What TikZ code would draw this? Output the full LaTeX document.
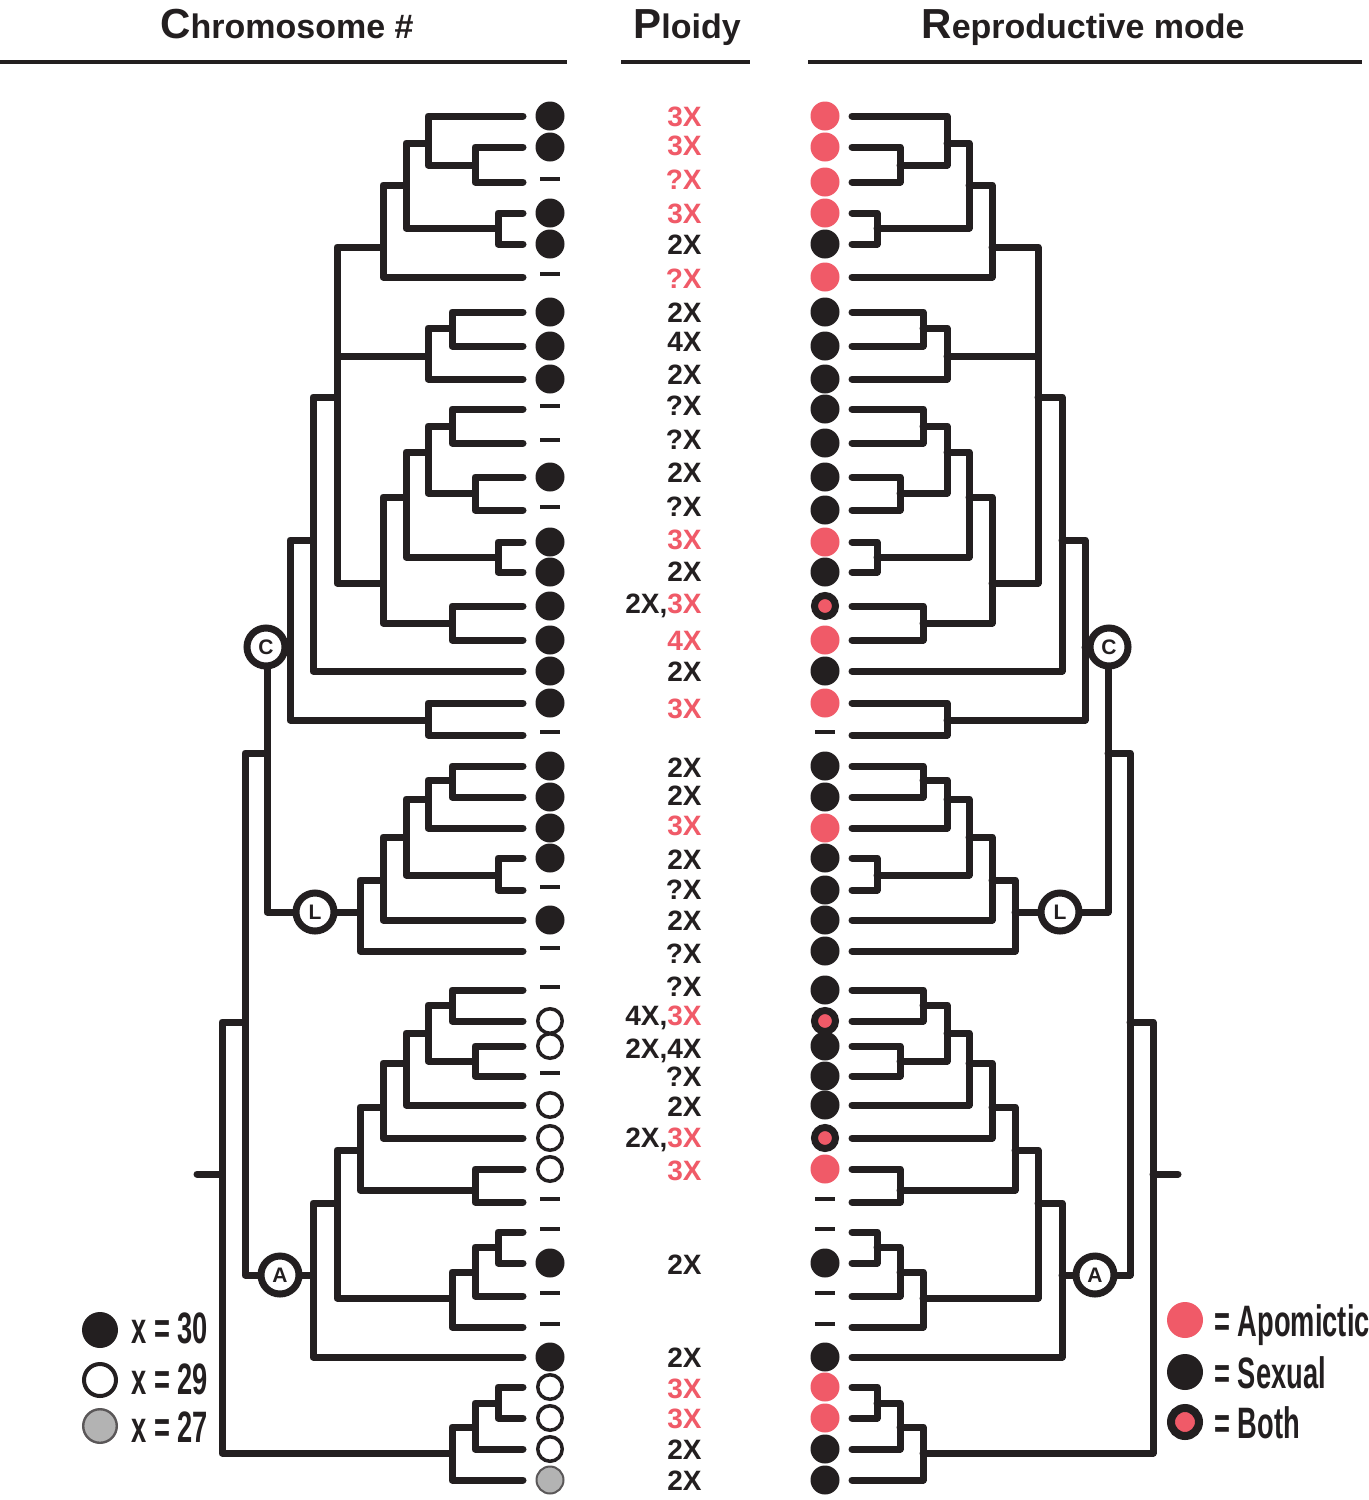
\documentclass[tikz,border=0pt]{standalone}
\usepackage{fontspec}
\setmainfont{Liberation Sans}
\newfontfamily\condfont[FakeStretch=0.62]{Liberation Sans}
\definecolor{ink}{HTML}{231F20}
\definecolor{apo}{HTML}{F05A68}
\definecolor{gryc}{HTML}{B3B3B3}
\newcommand\redx[1]{\textcolor{apo}{#1}}
\newcommand\bigini[1]{{\fontsize{21}{21}\selectfont #1}}
\tikzset{
 tree/.style={draw=ink,line width=3.5pt,line cap=round,line join=round},
 rulestyle/.style={draw=ink,line width=2pt},
 clade/.style={circle,draw=ink,fill=white,line width=3.5pt,minimum size=19pt,inner sep=0pt,font=\bfseries\fontsize{10.5}{10.5}\selectfont,text=ink},
 mkF/.style={circle,fill=ink,minimum size=14.5pt,inner sep=0pt},
 mkO/.style={circle,draw=ink,fill=white,line width=1.75pt,minimum size=12.25pt,inner sep=0pt},
 mkG/.style={circle,draw=ink!75,fill=gryc,line width=1pt,minimum size=13.5pt,inner sep=0pt},
 mkD/.style={rectangle,fill=ink,minimum width=10pt,minimum height=2pt,inner sep=0pt,yshift=1.5pt},
 rpR/.style={circle,fill=apo,minimum size=14.5pt,inner sep=0pt},
 rpB/.style={mkF},
 rpH/.style={circle,draw=ink,fill=apo,line width=3.5pt,minimum size=10.5pt,inner sep=0pt},
 rpD/.style={mkD},
 lgF/.style={circle,fill=ink,minimum size=18pt,inner sep=0pt},
 lgO/.style={circle,draw=ink,fill=white,line width=2pt,minimum size=16pt,inner sep=0pt},
 lgG/.style={circle,draw=ink!75,fill=gryc,line width=1.2pt,minimum size=16.8pt,inner sep=0pt},
 lgR/.style={circle,fill=apo,minimum size=18pt,inner sep=0pt},
 lgB/.style={lgF},
 lgH/.style={circle,draw=ink,fill=apo,line width=4pt,minimum size=14pt,inner sep=0pt},
 plo/.style={anchor=east,inner sep=0pt,text height=10pt,text depth=0pt,font=\bfseries\fontsize{14}{14}\selectfont,text=ink},
 hdr/.style={anchor=base,inner sep=0pt,font=\bfseries\fontsize{17}{17}\selectfont,text=ink},
 leg/.style={anchor=west,inner sep=0pt,text height=16pt,text depth=0pt,font=\condfont\bfseries\fontsize{22}{22}\selectfont,text=ink},
}
\newcommand\cladetree[1]{%
 \foreach \n/\px/\py in {R/222/1174, CLA/245/1022, CL/267/753, Ca/290/647,
   N313/313/540, N337/337/397, N383a/383/247, N406a/406/185, N428c/428/143,
   N475a/475/165, N498a/498/228, N428a/428/356, N452a/452/328, N383b/383/583,
   N406b/406/497, N428d/428/452, N452c/452/426, N475b/475/493, N498b/498/557,
   N452b/452/623, N428b/428/720,
   La/360/912, N383c/383/880, N406c/406/837, N428e/428/799, N452d/452/780, N498c/498/875,
   Aa/313/1275, N337b/337/1203, N360/360/1150, N383d/383/1107, N406d/406/1063,
   N428f/428/1033, N452f/452/1005, N475d/475/1061, N475c/475/1190, N452e/452/1298,
   N475e/475/1272, N498d/498/1247,
   Z/452/1453, N475f/475/1427, N498e/498/1403}{\coordinate (#1-\n) at (\px,\py);}
 \foreach \i/\py in {1/116,2/147,3/182,4/213,5/244,6/277,7/312,8/346,9/379,10/409,
   11/443,12/477,13/510,14/542,15/572,16/606,17/640,18/671,19/703,20/735,
   21/766,22/797,23/828,24/858,25/890,26/920,27/951,28/990,29/1021,30/1046,
   31/1076,32/1105,33/1138,34/1169,35/1202,36/1232,37/1263,38/1296,39/1327,40/1357,
   41/1387,42/1418,43/1449,44/1480}{\coordinate (#1-t\i) at (523,\py);}
 \coordinate (#1-stem) at (197,1174);
 \draw[tree] (#1-stem) -- (#1-R);
 \foreach \p/\c in {R/CLA, R/Z, CLA/CL, CLA/Aa, CL/Ca, CL/La,
   Ca/N313, Ca/N428b, N313/N337, N313/t18, N337/N383a, N337/N428a, N337/N383b,
   N383a/N406a, N383a/t6, N406a/N428c, N406a/N498a, N428c/t1, N428c/N475a,
   N475a/t2, N475a/t3, N498a/t4, N498a/t5, N428a/N452a, N428a/t9, N452a/t7, N452a/t8,
   N383b/N406b, N383b/N452b, N406b/N428d, N406b/N498b, N428d/N452c, N428d/N475b,
   N452c/t10, N452c/t11, N475b/t12, N475b/t13, N498b/t14, N498b/t15,
   N452b/t16, N452b/t17, N428b/t19, N428b/t20,
   La/N383c, La/t27, N383c/N406c, N383c/t26, N406c/N428e, N406c/N498c,
   N428e/N452d, N428e/t23, N452d/t21, N452d/t22, N498c/t24, N498c/t25,
   Aa/N337b, Aa/t40, N337b/N360, N337b/N452e, N360/N383d, N360/N475c,
   N383d/N406d, N383d/t33, N406d/N428f, N406d/t32, N428f/N452f, N428f/N475d,
   N452f/t28, N452f/t29, N475d/t30, N475d/t31, N475c/t34, N475c/t35,
   N452e/N475e, N452e/t39, N475e/N498d, N475e/t38, N498d/t36, N498d/t37,
   Z/N475f, Z/t44, N475f/N498e, N475f/t43, N498e/t41, N498e/t42}{\draw[tree] (#1-\p) |- (#1-\c);}
 \node[clade] (#1-C) at (266,647) {C};
 \node[clade] (#1-L) at (315,912) {L};
 \node[clade] (#1-A) at (280,1275) {A};
}
\begin{document}
\begin{tikzpicture}[x=0.5pt,y=-0.5pt]
\useasboundingbox[fill=white] (0,0) rectangle (1369,1500);
% headers
\node[hdr] (h1) at (287,38) {\bigini{C}hromosome \#};
\node[hdr] (h2) at (687,38) {\bigini{P}loidy};
\node[hdr] (h3) at (1083,38) {\bigini{R}eproductive mode};
\coordinate (ru1a) at (0,62); \coordinate (ru1b) at (567,62);
\coordinate (ru2a) at (621,62); \coordinate (ru2b) at (750,62);
\coordinate (ru3a) at (808,62); \coordinate (ru3b) at (1362,62);
\draw[rulestyle] (ru1a) -- (ru1b);
\draw[rulestyle] (ru2a) -- (ru2b);
\draw[rulestyle] (ru3a) -- (ru3b);
% trees
\begin{scope}
 \cladetree{l}
\end{scope}
\begin{scope}[shift={(1375,0)},xscale=-1]
 \cladetree{r}
\end{scope}
% chromosome markers
\foreach \i/\m in {1/F,2/F,3/D,4/F,5/F,6/D,7/F,8/F,9/F,10/D,11/D,12/F,13/D,14/F,15/F,
  16/F,17/F,18/F,19/F,20/D,21/F,22/F,23/F,24/F,25/D,26/F,27/D,28/D,29/O,30/O,31/D,
  32/O,33/O,34/O,35/D,36/D,37/F,38/D,39/D,40/F,41/O,42/O,43/O,44/G}
  {\node[mk\m,xshift=13.5pt] (chr\i) at (l-t\i) {};}
% reproductive markers
\foreach \i/\m in {1/R,2/R,3/R,4/R,5/B,6/R,7/B,8/B,9/B,10/B,11/B,12/B,13/B,14/R,15/B,
  16/H,17/R,18/B,19/R,20/D,21/B,22/B,23/R,24/B,25/B,26/B,27/B,28/B,29/H,30/B,31/B,
  32/B,33/H,34/R,35/D,36/D,37/B,38/D,39/D,40/B,41/R,42/R,43/B,44/B}
  {\node[rp\m,xshift=-13.5pt] (rep\i) at (r-t\i) {};}
% ploidy
\node[plo] (p1) at (702,116) {\redx{3X}};
\node[plo] (p2) at (702,145) {\redx{3X}};
\node[plo] (p3) at (702,179) {\redx{?X}};
\node[plo] (p4) at (702,213) {\redx{3X}};
\node[plo] (p5) at (702,244) {2X};
\node[plo] (p6) at (702,278) {\redx{?X}};
\node[plo] (p7) at (702,312) {2X};
\node[plo] (p8) at (702,341) {4X};
\node[plo] (p9) at (702,374) {2X};
\node[plo] (p10) at (702,405) {?X};
\node[plo] (p11) at (702,439) {?X};
\node[plo] (p12) at (702,472) {2X};
\node[plo] (p13) at (702,506) {?X};
\node[plo] (p14) at (702,539) {\redx{3X}};
\node[plo] (p15) at (702,571) {2X};
\node[plo] (p16) at (702,603) {2X,\redx{3X}};
\node[plo] (p17) at (702,640) {\redx{4X}};
\node[plo] (p18) at (702,671) {2X};
\node[plo] (p19) at (702,708) {\redx{3X}};
\node[plo] (p21) at (702,767) {2X};
\node[plo] (p22) at (702,795) {2X};
\node[plo] (p23) at (702,825) {\redx{3X}};
\node[plo] (p24) at (702,859) {2X};
\node[plo] (p25) at (702,889) {?X};
\node[plo] (p26) at (702,920) {2X};
\node[plo] (p27) at (702,953) {?X};
\node[plo] (p28) at (702,986) {?X};
\node[plo] (p29) at (702,1015) {4X,\redx{3X}};
\node[plo] (p30) at (702,1048) {2X,4X};
\node[plo] (p31) at (702,1076) {?X};
\node[plo] (p32) at (702,1106) {2X};
\node[plo] (p33) at (702,1137) {2X,\redx{3X}};
\node[plo] (p34) at (702,1170) {\redx{3X}};
\node[plo] (p37) at (702,1264) {2X};
\node[plo] (p40) at (702,1357) {2X};
\node[plo] (p41) at (702,1388) {\redx{3X}};
\node[plo] (p42) at (702,1418) {\redx{3X}};
\node[plo] (p43) at (702,1449) {2X};
\node[plo] (p44) at (702,1480) {2X};
% legends
\node[lgF] (lk1) at (100,1330) {};
\node[lgO] (lk2) at (100,1380) {};
\node[lgG] (lk3) at (100,1426) {};
\node[leg] (lt1) at (131,1327) {x = 30};
\node[leg] (lt2) at (131,1378) {x = 29};
\node[leg] (lt3) at (131,1426) {x = 27};
\node[lgR] (rk1) at (1185,1320) {};
\node[lgB] (rk2) at (1185,1372) {};
\node[lgH] (rk3) at (1185,1422) {};
\node[leg] (rt1) at (1214,1320) {= Apomictic};
\node[leg] (rt2) at (1214,1372) {= Sexual};
\node[leg] (rt3) at (1214,1422) {= Both};
\end{tikzpicture}
\end{document}
